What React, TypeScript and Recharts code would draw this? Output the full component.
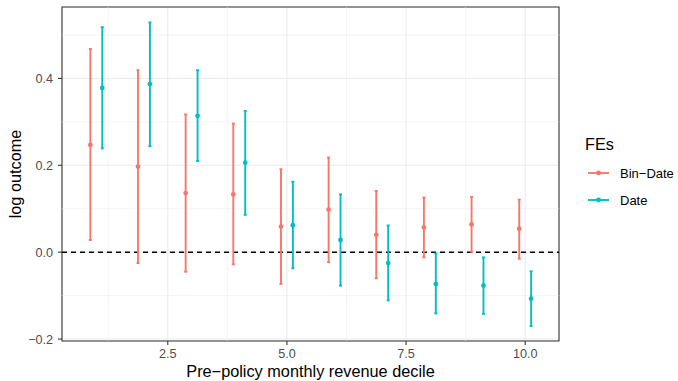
import React from 'react';
import {
  ComposedChart,
  Scatter,
  XAxis,
  YAxis,
  CartesianGrid,
  ReferenceLine,
  ReferenceArea,
  ErrorBar,
} from 'recharts';

// ---- data ----
const deciles = [1, 2, 3, 4, 5, 6, 7, 8, 9, 10];

const binDateEst = [0.247, 0.197, 0.136, 0.133, 0.059, 0.098, 0.040, 0.057, 0.064, 0.054];
const binDateLow = [0.028, -0.025, -0.045, -0.028, -0.073, -0.023, -0.060, -0.012, 0.001, -0.015];
const binDateHigh = [0.468, 0.419, 0.317, 0.296, 0.191, 0.218, 0.141, 0.126, 0.127, 0.121];

const dateEst = [0.378, 0.387, 0.314, 0.206, 0.062, 0.028, -0.025, -0.073, -0.077, -0.107];
const dateLow = [0.239, 0.244, 0.210, 0.086, -0.037, -0.077, -0.111, -0.141, -0.142, -0.170];
const dateHigh = [0.518, 0.529, 0.419, 0.325, 0.162, 0.133, 0.0615, -0.003, -0.012, -0.044];

const xTicks = [2.5, 5, 7.5, 10];
const xMinor = [1.25, 3.75, 6.25, 8.75];
const yTicks = [-0.2, 0, 0.2, 0.4];
const yMinor = [-0.1, 0.1, 0.3, 0.5];

const seriesNames = ['Bin\u2212Date', 'Date'];
const colors = ['#F8766D', '#00BFC4'];

const X_DOMAIN: [number, number] = [0.28, 10.71];
const Y_DOMAIN: [number, number] = [-0.2045, 0.5645];
const DODGE = 0.125;

const build = (est: number[], lo: number[], hi: number[], shift: number) =>
  deciles.map((d, i) => ({
    x: d + shift,
    y: est[i],
    err: [est[i] - lo[i], hi[i] - est[i]],
  }));

const binDateData = build(binDateEst, binDateLow, binDateHigh, -DODGE);
const dateData = build(dateEst, dateLow, dateHigh, DODGE);

const FONT = '"Liberation Sans", Arial, Helvetica, sans-serif';
const TICK_SIZE = 12.6;
const TITLE_SIZE = 16.3;

const Dot = (props: any) => {
  const { cx, cy, fill } = props;
  if (cx == null || cy == null) return null;
  return <circle cx={cx} cy={cy} r={2.4} fill={fill} />;
};

export default function App() {
  return (
    <div style={{ position: 'absolute', left: 0, top: 0, width: 678, height: 381, background: '#fff', fontFamily: FONT }}>
      <ComposedChart width={678} height={381} margin={{ top: 7, right: 119, left: 0, bottom: 0 }}>
        <CartesianGrid stroke="#EBEBEB" strokeWidth={1.07} />
        {xMinor.map((v) => (
          <ReferenceLine key={'xm' + v} x={v} stroke="#EBEBEB" strokeWidth={0.55} />
        ))}
        {yMinor.map((v) => (
          <ReferenceLine key={'ym' + v} y={v} stroke="#EBEBEB" strokeWidth={0.55} />
        ))}
        <XAxis
          type="number"
          dataKey="x"
          domain={X_DOMAIN}
          ticks={xTicks}
          allowDataOverflow
          height={40}
          tickSize={4}
          tickMargin={4.4}
          axisLine={false}
          tickLine={{ stroke: '#333333', strokeWidth: 1.07 }}
          tickFormatter={(v: number) => v.toFixed(1)}
          tick={{ fill: '#4D4D4D', fontSize: TICK_SIZE, fontFamily: FONT }}
        />
        <YAxis
          type="number"
          dataKey="y"
          domain={Y_DOMAIN}
          ticks={yTicks}
          allowDataOverflow
          width={62}
          tickSize={4}
          tickMargin={5}
          axisLine={false}
          tickLine={{ stroke: '#333333', strokeWidth: 1.07 }}
          tickFormatter={(v: number) => (v < 0 ? '\u2212' + Math.abs(v).toFixed(1) : v.toFixed(1))}
          tick={{ fill: '#4D4D4D', fontSize: TICK_SIZE, fontFamily: FONT }}
        />
        <ReferenceLine y={0} stroke="#000000" strokeWidth={1.4} strokeDasharray="5 4" />
        <Scatter name={seriesNames[0]} data={binDateData} fill={colors[0]} shape={<Dot />} isAnimationActive={false}>
          <ErrorBar dataKey="err" direction="y" width={1.5} stroke={colors[0]} strokeWidth={1.9} isAnimationActive={false} />
        </Scatter>
        <Scatter name={seriesNames[1]} data={dateData} fill={colors[1]} shape={<Dot />} isAnimationActive={false}>
          <ErrorBar dataKey="err" direction="y" width={1.5} stroke={colors[1]} strokeWidth={1.9} isAnimationActive={false} />
        </Scatter>
        <ReferenceArea
          x1={X_DOMAIN[0]}
          x2={X_DOMAIN[1]}
          y1={Y_DOMAIN[0]}
          y2={Y_DOMAIN[1]}
          fill="none"
          fillOpacity={0}
          stroke="#333333"
          strokeWidth={1.07}
          ifOverflow="visible"
        />
      </ComposedChart>

      {/* axis titles */}
      <div
        style={{
          position: 'absolute',
          left: 110.5,
          width: 400,
          top: 362.5,
          lineHeight: TITLE_SIZE + 'px',
          fontSize: TITLE_SIZE,
          textAlign: 'center',
          color: '#000',
          whiteSpace: 'nowrap',
        }}
      >
        Pre{'\u2212'}policy monthly revenue decile
      </div>
      <div
        style={{
          position: 'absolute',
          left: 15,
          top: 173.5,
          lineHeight: TITLE_SIZE + 'px',
          fontSize: TITLE_SIZE,
          color: '#000',
          whiteSpace: 'nowrap',
          transform: 'translate(-50%, -50%) rotate(-90deg)',
        }}
      >
        log outcome
      </div>

      {/* legend */}
      <div
        style={{
          position: 'absolute',
          left: 585,
          top: 136,
          lineHeight: TITLE_SIZE + 'px',
          fontSize: TITLE_SIZE,
          color: '#000',
          whiteSpace: 'nowrap',
        }}
      >
        FEs
      </div>
      {seriesNames.map((name, i) => {
        const cy = 172.7 + i * 27.3;
        return (
          <React.Fragment key={name}>
            <svg style={{ position: 'absolute', left: 586, top: cy - 8 }} width={25} height={16}>
              <line x1={2} x2={23} y1={8} y2={8} stroke={colors[i]} strokeWidth={1.9} />
              <circle cx={12.5} cy={8} r={2.4} fill={colors[i]} />
            </svg>
            <div
              style={{
                position: 'absolute',
                left: 620,
                top: cy - 5.6,
                lineHeight: '13px',
                fontSize: 13,
                color: '#000',
                whiteSpace: 'nowrap',
              }}
            >
              {name}
            </div>
          </React.Fragment>
        );
      })}
    </div>
  );
}
